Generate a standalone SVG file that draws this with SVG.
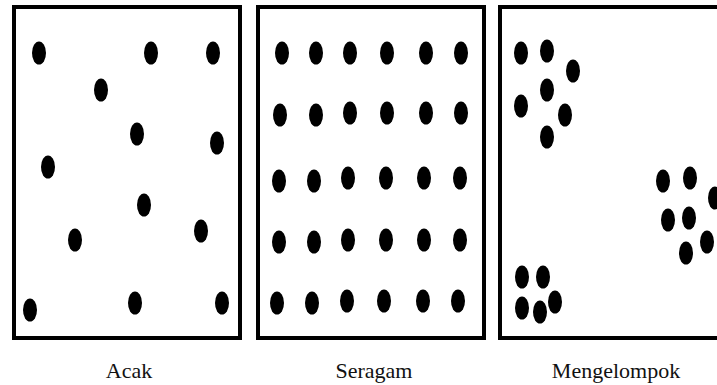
<svg xmlns="http://www.w3.org/2000/svg" width="717" height="385" viewBox="0 0 717 385">
<defs>
<style>
.panel{fill:#fff;stroke:#000;stroke-width:4}
.lbl{font-family:"Liberation Serif","DejaVu Serif",serif;font-size:22px;fill:#111;text-anchor:middle}
</style>
<ellipse id="d" cx="0" cy="0" rx="7" ry="11.5" fill="#000"/>
</defs>
<rect width="717" height="385" fill="#fff"/>
<g id="panel-acak">
<rect class="panel" x="14" y="7" width="226" height="331"/>
<use href="#d" x="39" y="53"/><use href="#d" x="151" y="53"/><use href="#d" x="213" y="53"/>
<use href="#d" x="101" y="90"/><use href="#d" x="137" y="134"/><use href="#d" x="217" y="143"/>
<use href="#d" x="48" y="167"/><use href="#d" x="144" y="205"/><use href="#d" x="201" y="231"/>
<use href="#d" x="75" y="240"/><use href="#d" x="30" y="310"/><use href="#d" x="135" y="303"/>
<use href="#d" x="222" y="303"/>
<text class="lbl" x="129" y="378">Acak</text>
</g>
<g id="panel-seragam">
<rect class="panel" x="258" y="7" width="226" height="331"/>
<use href="#d" x="282" y="53"/><use href="#d" x="316" y="53"/><use href="#d" x="350" y="53"/><use href="#d" x="387" y="53"/><use href="#d" x="426" y="53"/><use href="#d" x="461" y="53"/>
<use href="#d" x="280" y="115"/><use href="#d" x="316" y="115"/><use href="#d" x="350" y="113"/><use href="#d" x="387" y="113"/><use href="#d" x="426" y="113"/><use href="#d" x="461" y="113"/>
<use href="#d" x="279" y="181"/><use href="#d" x="314" y="181"/><use href="#d" x="348" y="178"/><use href="#d" x="386" y="178"/><use href="#d" x="424" y="178"/><use href="#d" x="460" y="178"/>
<use href="#d" x="279" y="242"/><use href="#d" x="314" y="242"/><use href="#d" x="348" y="240"/><use href="#d" x="386" y="240"/><use href="#d" x="424" y="240"/><use href="#d" x="460" y="240"/>
<use href="#d" x="277" y="303"/><use href="#d" x="312" y="303"/><use href="#d" x="347" y="301"/><use href="#d" x="384" y="301"/><use href="#d" x="423" y="301"/><use href="#d" x="458" y="301"/>
<text class="lbl" x="374" y="378">Seragam</text>
</g>
<g id="panel-mengelompok">
<rect class="panel" x="500" y="7" width="240" height="331"/>
<use href="#d" x="521" y="53"/><use href="#d" x="547" y="51"/><use href="#d" x="573" y="71"/>
<use href="#d" x="547" y="90"/><use href="#d" x="521" y="106"/><use href="#d" x="565" y="115"/>
<use href="#d" x="547" y="137"/>
<use href="#d" x="663" y="181"/><use href="#d" x="690" y="178"/><use href="#d" x="715" y="198"/>
<use href="#d" x="668" y="220"/><use href="#d" x="689" y="218"/><use href="#d" x="707" y="242"/>
<use href="#d" x="686" y="253"/>
<use href="#d" x="522" y="277"/><use href="#d" x="543" y="277"/><use href="#d" x="555" y="302"/>
<use href="#d" x="522" y="308"/><use href="#d" x="540" y="312"/>
<text class="lbl" x="616" y="378">Mengelompok</text>
</g>
<g id="connectors"/>
</svg>
